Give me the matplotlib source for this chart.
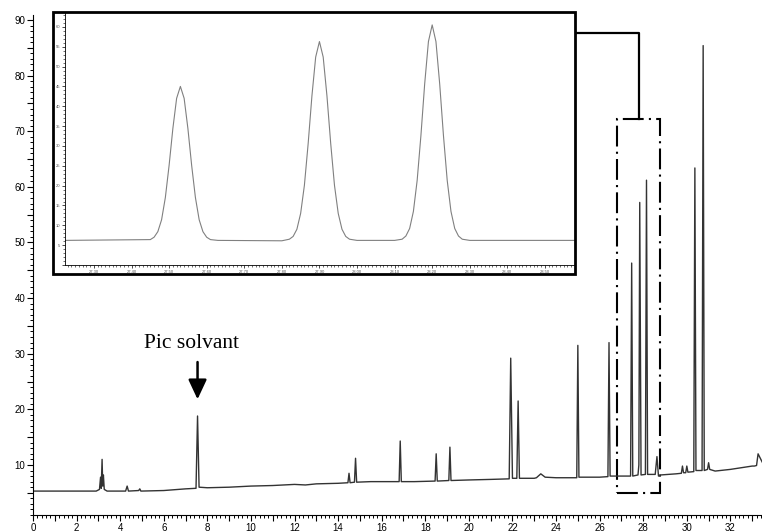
import numpy as np
import matplotlib.pyplot as plt
from matplotlib.patches import Rectangle
from matplotlib.ticker import MultipleLocator, FuncFormatter

# main chromatogram trace (retention time in min, signal)
t_main = [0.0, 2.9, 3.05, 3.10, 3.13, 3.17, 3.20, 3.23, 3.27, 3.4,
          4.25, 4.32, 4.38, 4.85, 4.90, 4.95, 6.0, 7.0, 7.48, 7.55,
          7.62, 8.0, 9.0, 10.0, 11.0, 12.0, 12.5, 13.0, 14.0, 14.45,
          14.5, 14.55, 14.75, 14.8, 14.85, 15.5, 16.8, 16.85, 16.9, 17.5,
          18.45, 18.5, 18.55, 19.08, 19.13, 19.18, 20.0, 21.0, 21.85, 21.92,
          22.0, 22.2, 22.26, 22.32, 23.0, 23.1, 23.3, 23.5, 24.0, 24.95,
          25.0, 25.05, 25.5, 26.0, 26.38, 26.43, 26.48, 27.0, 27.42, 27.47,
          27.52, 27.76, 27.80, 27.84, 27.90, 28.10, 28.15, 28.20, 28.55, 28.63,
          28.70, 28.8, 29.5, 29.75, 29.80, 29.85, 29.95, 30.0, 30.05, 30.32,
          30.37, 30.42, 30.70, 30.75, 30.80, 30.95, 31.0, 31.05, 31.3, 32.0,
          33.0, 33.1, 33.2, 33.27, 33.5]
y_main = [5.3, 5.3, 5.6, 7.8, 5.8, 11.0, 6.2, 8.2, 5.6, 5.3,
          5.3, 6.2, 5.3, 5.4, 5.7, 5.3, 5.4, 5.7, 5.8, 18.8,
          6.0, 5.9, 6.0, 6.2, 6.3, 6.5, 6.4, 6.6, 6.7, 6.8,
          8.5, 6.8, 6.9, 11.2, 6.9, 7.0, 7.0, 14.3, 7.0, 7.0,
          7.1, 12.0, 7.1, 7.2, 13.2, 7.2, 7.3, 7.4, 7.5, 29.2,
          7.6, 7.6, 21.5, 7.6, 7.6, 7.7, 8.4, 7.8, 7.7, 7.7,
          31.5, 7.8, 7.8, 7.8, 7.9, 32.0, 8.0, 8.0, 8.0, 46.3,
          8.0, 8.2, 10.0, 57.2, 8.2, 8.3, 61.2, 8.3, 8.3, 11.5,
          8.0, 8.2, 8.4, 8.5, 9.8, 8.6, 8.6, 9.8, 8.7, 8.8,
          63.4, 9.0, 9.0, 85.4, 9.0, 9.2, 10.4, 9.2, 8.9, 9.2,
          9.8, 9.8, 9.9, 12.0, 10.2]

# zoomed part (inset)
t_zoom = [27.22, 27.45, 27.46, 27.47, 27.48, 27.49, 27.50, 27.51, 27.52, 27.53,
          27.54, 27.55, 27.56, 27.57, 27.58, 27.59, 27.60, 27.61, 27.63, 27.80,
          27.82, 27.83, 27.84, 27.85, 27.86, 27.87, 27.88, 27.89, 27.90, 27.91,
          27.92, 27.93, 27.94, 27.95, 27.96, 27.97, 27.98, 28.00, 28.10, 28.12,
          28.13, 28.14, 28.15, 28.16, 28.17, 28.18, 28.19, 28.20, 28.21, 28.22,
          28.23, 28.24, 28.25, 28.26, 28.27, 28.28, 28.30, 28.58]
y_zoom = [6.2, 6.4, 7.0, 8.4, 11.4, 17.0, 25.1, 34.4, 42.0, 45.0,
          42.0, 34.4, 25.1, 17.0, 11.4, 8.4, 7.0, 6.4, 6.2, 6.1,
          6.5, 7.2, 9.0, 13.0, 20.1, 30.6, 42.6, 52.4, 56.3, 52.4,
          42.6, 30.6, 20.1, 13.0, 9.0, 7.2, 6.5, 6.2, 6.2, 6.5,
          7.3, 9.2, 13.5, 21.3, 32.6, 45.6, 56.3, 60.5, 56.3, 45.6,
          32.6, 21.3, 13.5, 9.2, 7.3, 6.5, 6.2, 6.2]

# zoom region drawn on the chromatogram: t range, signal range
zoom_t = (26.78, 28.79)
zoom_y = (4.95, 72.2)

plt.rcParams['font.family'] = ['Liberation Sans', 'DejaVu Sans']

fig = plt.figure(figsize=(7.62, 5.31), dpi=100)
ax = fig.add_axes([33 / 762, 1 - 515 / 531, 729 / 762, 500 / 531])
ax.plot(t_main, y_main, color='#333333', lw=1.0)
ax.set_xlim(0, 33.45)
ax.set_ylim(1.0, 90.9)
for s in ['top', 'right']:
    ax.spines[s].set_visible(False)
ax.xaxis.set_major_locator(MultipleLocator(1))
ax.xaxis.set_minor_locator(MultipleLocator(0.2))
ax.xaxis.set_major_formatter(FuncFormatter(lambda v, p: '%d' % v if round(v) % 2 == 0 else ''))
ax.yaxis.set_major_locator(MultipleLocator(5))
ax.yaxis.set_minor_locator(MultipleLocator(1))
ax.yaxis.set_major_formatter(FuncFormatter(lambda v, p: '%d' % v if round(v) % 10 == 0 else ''))
ax.tick_params(which='major', length=4, width=0.8, labelsize=7, pad=1.5)
ax.tick_params(which='minor', length=2.5, width=0.7)

# solvent peak annotation
ax.annotate('', xy=(7.55, 21.3), xytext=(7.55, 29.0),
            arrowprops=dict(arrowstyle='-|>,head_length=0.6,head_width=0.28',
                            mutation_scale=20, lw=1.8, color='black'))
ax.text(7.25, 31.0, 'Pic solvant', family='Liberation Serif', fontsize=15.5,
        ha='center', va='baseline')

# dash-dot box around the zoomed region
ax.add_patch(Rectangle((zoom_t[0], zoom_y[0]), zoom_t[1] - zoom_t[0], zoom_y[1] - zoom_y[0],
                       fill=False, lw=1.5, ls=(0, (10, 2.5, 1, 2.5)), color='black',
                       clip_on=False))

# inset
ins = fig.add_axes([65 / 762, 1 - 265 / 531, 510 / 762, 252 / 531])
ins.plot(t_zoom, y_zoom, color='#808080', lw=0.8)
ins.set_xlim(27.223, 28.58)
ins.set_ylim(0, 63.5)
for s in ['top', 'right']:
    ins.spines[s].set_visible(False)
ins.xaxis.set_major_locator(MultipleLocator(0.1))
ins.xaxis.set_minor_locator(MultipleLocator(0.01))
ins.xaxis.set_major_formatter(FuncFormatter(lambda v, p: '%.2f' % v))
ins.yaxis.set_major_locator(MultipleLocator(5))
ins.yaxis.set_minor_locator(MultipleLocator(1))
ins.yaxis.set_major_formatter(FuncFormatter(lambda v, p: '%d' % v if v > 0 else ''))
ins.tick_params(which='major', length=2.5, width=0.5, labelsize=3, pad=1, labelcolor='#555555')
ins.tick_params(which='minor', length=1.5, width=0.4)
for s in ['left', 'bottom']:
    ins.spines[s].set_linewidth(0.6)

# thick border round the inset
fig.patches.append(Rectangle((53 / 762, 1 - 274 / 531), 522 / 762, 262 / 531,
                             transform=fig.transFigure, fill=False, lw=2.0,
                             color='black'))

# connector from inset border to top of the zoom box
mid_t = (zoom_t[0] + zoom_t[1]) / 2
to_data = fig.transFigure + ax.transData.inverted()
x_edge, y_conn = to_data.transform((575 / 762, 1 - 33 / 531))
ax.plot([x_edge, mid_t, mid_t], [y_conn, y_conn, zoom_y[1]], color='black',
        lw=1.6, clip_on=False)

fig.savefig('out.png', dpi=100)
